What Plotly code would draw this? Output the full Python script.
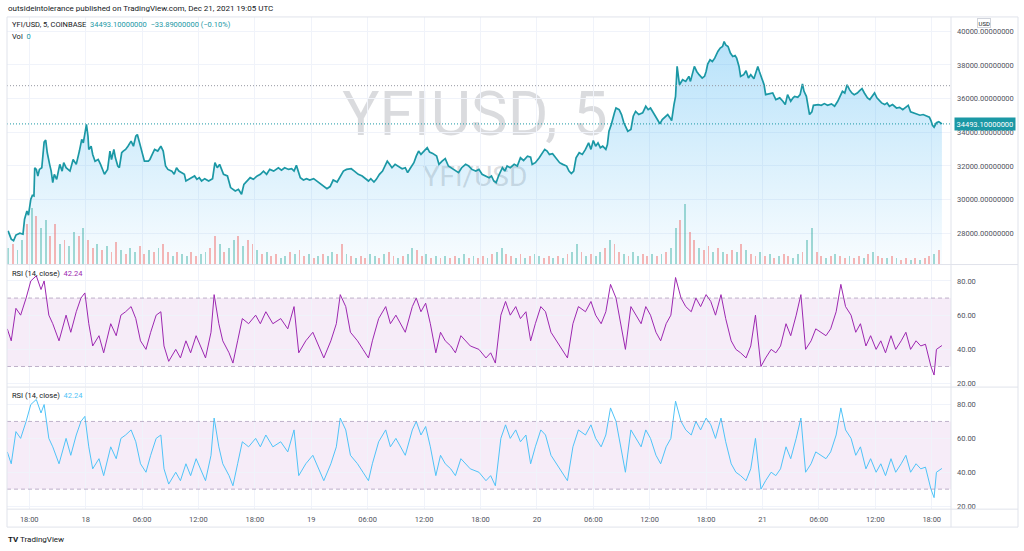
import pandas as pd
import plotly.graph_objects as go

W, H = 1024, 551
BASE = pd.Timestamp("2021-12-17 18:00")

# ---------------- data (minutes after 2021-12-17 18:00 UTC) ----------------
price_min = [-135,-115,-100,-85,-60,-40,-30,-15,-5,10,20,30,35,45,55,65,80,95,105,115,130,140,150,160,175,195,210,220,235,260,
 280,300,320,335,345,355,365,375,380,395,405,420,440,455,470,480,500,515,525,540,550,565,575,590,600,615,630,650,665,680,
 690,705,715,735,760,770,785,800,820,840,855,870,885,910,925,940,955,970,990,1000,1015,1035,1055,1070,1085,1100,1120,1145,1170,1185,
 1200,1215,1240,1265,1285,1315,1335,1355,1370,1390,1410,1430,1455,1475,1495,1515,1535,1560,1590,1610,1630,1655,1675,1690,1705,1730,1750,1770,1790,1815,
 1835,1855,1880,1900,1920,1940,1965,1985,2005,2025,2055,2075,2100,2125,2145,2165,2180,2200,2215,2235,2255,2285,2300,2315,2335,2355,2380,2400,2415,2430,
 2455,2470,2485,2500,2515,2540,2555,2575,2600,2615,2635,2655,2675,2700,2720,2740,2760,2785,2805,2825,2850,2870,2890,2910,2935,2950,2965,2980,2995,3020,
 3035,3050,3070,3095,3115,3135,3155,3180,3200,3210,3230,3255,3275,3290,3305,3320,3340,3360,3385,3405,3430,3445,3460,3475,3490,3510,3530,3550,3570,3585,
 3600,3615,3630,3645,3660,3680,3690,3700,3715,3735,3745,3765,3780,3795,3820,3840,3855,3870,3890,3915,3935,3950,3965,3990,4010,4025,4040,4060,4075,4090,
 4100,4115,4125,4135,4145,4150,4170,4190,4210,4220,4245,4260,4275,4295,4310,4320,4330,4345,4360,4375,4395,4410,4425,4435,4445,4460,4475,4490,4505,4515,
 4530,4540,4560,4575,4590,4605,4625,4640,4650,4660,4675,4690,4700,4725,4745,4765,4790,4810,4825,4840,4860,4875,4885,4905,4920,4935,4945,4960,4970,4980,
 4995,5005,5035,5055,5075,5095,5120,5140,5160,5180,5190,5205,5220,5235,5250,5265,5285,5300,5315,5330,5350,5365,5380,5395,5410,5425,5440,5460,5475,5490,
 5510,5535,5555,5575,5595,5610,5625,5640,5660,5685,5705,5725,5745,5755,5765,5775,5790,5805,5825]
price_val = [28140,27650,27550,27890,28000,27940,28830,29320,29070,30020,30250,30210,31890,31790,31400,31790,31890,33410,33530,32780,
 32090,31690,31000,31500,31200,32090,31690,32190,31890,31690,32380,32090,32880,33570,33370,33960,34460,33760,32980,33170,
 32680,32280,32380,32090,31790,31500,31790,32880,32380,32980,32480,31990,31890,32780,32880,32980,33170,33470,33170,33760,
 33860,33370,32980,32280,32280,32380,32680,32980,32880,33170,32880,31990,31790,31690,31500,31890,31690,31600,31500,31100,
 31200,31300,31400,31200,31300,31100,31240,31100,31240,32190,31890,32090,31500,31400,30710,30510,30610,30310,30900,31100,
 31300,31200,31400,31500,31690,31500,31790,31690,31890,31750,31890,31790,31830,31690,32030,31300,31160,31240,31160,31240,
 31100,31000,30770,30650,30770,31160,31040,31400,31690,31790,31830,31690,31500,31400,31240,31100,31240,31040,31200,31500,
 31690,32280,32090,31890,32090,31990,31830,31890,31600,31830,32190,32580,32880,32680,32820,33080,32820,32740,32580,32090,
 32280,32430,31990,31830,31690,31600,31890,32090,31990,31790,31690,31790,31500,31400,31300,31400,31100,31000,31400,31890,
 31690,31990,31890,32090,31990,32480,32320,32580,32520,32090,32190,32480,32780,32980,32880,32680,32720,32480,32190,32090,
 31990,31690,31540,31690,32480,32780,32680,32980,33370,32980,33510,33170,33370,33080,33170,32980,33270,34060,34460,35150,
 35440,35340,35050,34560,34060,34160,34950,35240,35050,35150,35540,35340,35440,35050,34750,34500,34750,34950,35050,34850,
 34690,35640,36130,37910,37020,36820,37120,37020,37320,37020,37910,37610,37420,37220,37320,37610,38050,38300,38200,38400,
 38800,39000,39090,39390,39190,39090,38700,38500,38560,38400,37910,37320,37420,37650,37220,37420,37180,37610,37910,37610,
 37220,36820,36230,36270,36330,35940,36040,35840,35640,36230,35840,36040,36130,36070,36230,36870,36430,36130,35540,35050,
 35210,35600,35640,35600,35700,35600,35680,35540,35840,36230,36430,36330,36820,36530,36330,36230,36330,36470,36590,36330,
 36040,35940,36130,36330,36040,35880,35740,35640,35740,35540,35640,35440,35480,35340,35480,35600,35210,35150,35090,35010,
 35050,34950,34890,34690,34410,34300,34560,34620,34493.1]

rsi_min = [-140,-115,-85,-55,-20,10,45,75,95,125,150,190,235,265,300,330,355,380,405,445,475,520,555,585,615,650,680,710,745,775,
 810,840,860,890,935,965,1000,1030,1065,1095,1125,1160,1180,1210,1235,1275,1300,1330,1360,1400,1445,1475,1510,1555,1605,1650,1690,1720,1765,1810,
 1845,1880,1925,1960,1985,2020,2050,2095,2130,2165,2190,2230,2275,2305,2340,2370,2400,2445,2470,2500,2530,2560,2595,2625,2655,2690,2720,2755,2785,2815,
 2870,2915,2945,2975,3010,3040,3070,3105,3135,3170,3200,3230,3265,3295,3330,3365,3405,3435,3470,3505,3550,3585,3615,3650,3680,3710,3745,3775,3805,3840,
 3870,3905,3935,3965,4000,4030,4065,4095,4125,4160,4190,4225,4255,4285,4320,4350,4380,4415,4445,4480,4510,4540,4575,4605,4635,4670,4700,4735,4765,4795,
 4830,4860,4895,4925,4955,4990,5020,5050,5085,5115,5150,5180,5210,5245,5275,5305,5340,5370,5405,5435,5465,5500,5530,5565,5595,5625,5660,5690,5720,5755,
 5775,5790,5825]
rsi_val = [52,45,64,60,70,80,83,75,80,60,55,45,60,50,62,70,73,55,42,48,38,55,48,60,62,65,58,45,40,50,
 60,62,42,33,40,35,45,38,48,42,35,50,72,55,45,38,32,45,58,55,60,55,62,55,58,52,65,38,45,50,
 42,35,45,55,72,65,50,45,40,35,45,58,65,55,60,55,50,65,70,62,67,55,38,50,45,42,38,48,45,42,
 40,35,38,32,60,68,60,65,58,62,45,55,65,62,50,45,40,35,55,65,62,68,60,55,62,78,70,55,40,65,
 60,55,65,60,50,45,55,60,82,70,65,62,70,65,72,68,60,72,58,45,40,38,35,42,60,30,35,40,38,42,
 55,48,60,72,40,45,52,50,48,52,62,78,65,60,50,55,42,48,40,45,38,48,40,45,50,40,45,42,43,30,
 25,40,42.24]

# 30-minute volume buckets, first bucket at 15:45 on Dec 17
vol_start_min = -135
vol_step_min = 30
vol_val = [8,10,7,12,20,28,24,18,22,14,20,10,12,9,16,14,18,12,8,10,7,9,6,11,7,5,8,6,9,5,
 7,6,8,10,6,4,6,5,4,6,4,5,6,8,14,10,6,8,12,14,9,12,10,7,5,6,4,5,3,4,
 6,5,7,4,5,3,4,5,4,6,5,10,5,4,3,4,3,5,4,3,5,6,4,3,4,5,8,7,4,5,
 3,4,3,4,3,4,3,5,3,4,3,4,3,5,6,8,5,4,3,5,3,4,5,4,3,4,3,4,3,5,
 6,10,6,4,5,4,6,8,12,10,6,5,4,6,4,5,4,5,4,5,6,8,18,22,30,16,12,8,7,9,
 6,8,6,5,7,6,10,7,5,4,6,4,5,3,4,5,4,3,5,6,12,18,6,4,3,4,5,4,3,4,
 3,4,3,5,6,4,3,3,4,3,2,3,2,3,2,3,4,5,7]
vol_up = [1,0,1,1,0,1,0,1,1,0,0,1,0,1,1,0,1,0,0,1,0,1,0,0,1,0,1,1,0,0,
 1,0,1,0,0,1,0,1,1,0,0,1,1,0,0,1,0,1,1,0,1,0,0,1,0,1,0,0,1,1,
 0,1,0,0,1,0,1,0,1,1,0,0,1,0,1,0,0,1,1,0,1,0,0,1,0,1,1,0,0,1,
 0,1,0,1,0,0,1,1,0,1,0,0,1,0,1,1,0,0,1,0,1,0,1,1,0,0,1,0,1,0,
 1,1,0,1,0,1,1,0,1,0,0,1,0,1,1,0,0,1,0,1,0,1,1,0,1,0,0,1,0,0,
 1,0,1,0,0,1,0,1,0,0,1,0,1,0,1,0,0,1,1,0,1,1,0,0,1,0,1,0,0,1,
 0,0,1,0,1,0,0,1,0,1,0,0,1,0,1,0,0,1,0]

x_tick_min = [0,360,720,1080,1440,1800,2160,2520,2880,3240,3600,3960,4320,4680,5040,5400,5760]
x_tick_text = ["18:00","18","06:00","12:00","18:00","19","06:00","12:00","18:00","20",
               "06:00","12:00","18:00","21","06:00","12:00","18:00"]
price_ticks = [28000,30000,32000,34000,36000,38000,40000]
rsi_ticks = [20,40,60,80]
LAST_PRICE = 34493.1
CHANGE = -33.89
CHANGE_PCT = -0.10
RSI_LAST = 42.24
LEVEL_LINE = 36765
RSI_UPPER, RSI_LOWER = 70, 30

# ---------------- styling ----------------
FONT = "Roboto"
TXT = "#50535e"
DARK = "#131722"
GRID = "#f0f3fa"
BORDER = "#e0e3eb"
TEAL = "#1b98a5"
PURPLE = "#9c27b0"
LBLUE = "#4fc3f7"
UP = "rgba(38,166,154,0.42)"
DN = "rgba(239,83,80,0.42)"

def px(x):
    return x / W

def py(y):
    return 1 - y / H

def tm(m):
    return BASE + pd.to_timedelta(m, unit="min")

assert len(price_min) == len(price_val)
assert len(rsi_min) == len(rsi_val)
assert len(vol_val) == len(vol_up)

t_price = [tm(m) for m in price_min]
t_rsi = [tm(m) for m in rsi_min]
t_vol = [tm(vol_start_min + i * vol_step_min) for i in range(len(vol_val))]
X0, X1 = tm(-142), tm(5883)

fig = go.Figure()

fig.add_trace(go.Bar(
    x=t_vol, y=vol_val, yaxis="y4",
    marker=dict(color=[UP if u else DN for u in vol_up], line=dict(width=0)),
    width=12 * 60 * 1000, hoverinfo="skip", showlegend=False))

fig.add_trace(go.Scatter(
    x=t_price, y=price_val, mode="lines", yaxis="y",
    line=dict(color=TEAL, width=1.7),
    fill="tozeroy",
    fillgradient=dict(type="vertical",
                      colorscale=[[0, "rgba(41,168,240,0.03)"], [1, "rgba(41,168,240,0.33)"]],
                      start=26168, stop=39400),
    showlegend=False))

fig.add_trace(go.Scatter(x=t_rsi, y=rsi_val, mode="lines", yaxis="y2",
                         line=dict(color=PURPLE, width=1), showlegend=False))
fig.add_trace(go.Scatter(x=t_rsi, y=rsi_val, mode="lines", yaxis="y3",
                         line=dict(color=LBLUE, width=1), showlegend=False))

tickfont = dict(family=FONT, size=7.5, color=TXT)

fig.update_layout(
    width=W, height=H, margin=dict(l=0, r=0, t=0, b=0),
    paper_bgcolor="white", plot_bgcolor="white",
    font=dict(family=FONT, color=TXT),
    showlegend=False, bargap=0,
    xaxis=dict(domain=[px(7), px(951)], range=[X0, X1], type="date",
               tickvals=[tm(m) for m in x_tick_min], ticktext=x_tick_text,
               anchor="y3", showgrid=True, gridcolor=GRID, gridwidth=1,
               zeroline=False, showline=False, ticks="", tickfont=tickfont,
               ticklabelstandoff=4),
    yaxis=dict(domain=[py(265), py(17)], range=[26168, 40849], side="right",
               tickvals=price_ticks, tickformat=".8f", anchor="x",
               showgrid=True, gridcolor=GRID, zeroline=False, ticks="",
               tickfont=tickfont, ticklabelstandoff=5),
    yaxis4=dict(overlaying="y", range=[0, 124], visible=False),
    yaxis2=dict(domain=[py(388), py(266)], range=[18.25, 89.3], side="right",
                tickvals=rsi_ticks, tickformat=".2f", anchor="x",
                showgrid=True, gridcolor=GRID, zeroline=False, ticks="",
                tickfont=tickfont, ticklabelstandoff=5),
    yaxis3=dict(domain=[py(511), py(389)], range=[18.2, 90], side="right",
                tickvals=rsi_ticks, tickformat=".2f", anchor="x",
                showgrid=True, gridcolor=GRID, zeroline=False, ticks="",
                tickfont=tickfont, ticklabelstandoff=5),
)

shapes = []
for ya in ("y2", "y3"):
    shapes.append(dict(type="rect", xref="x domain", yref=ya, x0=0, x1=1,
                       y0=RSI_LOWER, y1=RSI_UPPER, fillcolor="rgba(156,39,176,0.09)",
                       line=dict(width=0), layer="below"))
    for lv in (RSI_UPPER, RSI_LOWER):
        shapes.append(dict(type="line", xref="x domain", yref=ya, x0=0, x1=1,
                           y0=lv, y1=lv, line=dict(color="rgba(140,120,160,0.55)", width=1, dash="4px,3px")))
shapes.append(dict(type="line", xref="x domain", yref="y", x0=0, x1=1, y0=LEVEL_LINE, y1=LEVEL_LINE,
                   line=dict(color="#9598a1", width=1, dash="1px,2px")))
shapes.append(dict(type="line", xref="x domain", yref="y", x0=0, x1=1, y0=LAST_PRICE, y1=LAST_PRICE,
                   line=dict(color=TEAL, width=1, dash="1px,2px")))
shapes.append(dict(type="rect", xref="paper", yref="paper", x0=px(7), x1=px(1018), y0=py(529), y1=py(17),
                   line=dict(color=BORDER, width=1)))
for yy in (265.5, 388.5, 511):
    shapes.append(dict(type="line", xref="paper", yref="paper", x0=px(7), x1=px(1018), y0=py(yy), y1=py(yy),
                       line=dict(color=BORDER, width=1)))
shapes.append(dict(type="line", xref="paper", yref="paper", x0=px(951), x1=px(951), y0=py(529), y1=py(17),
                   line=dict(color=BORDER, width=1)))
shapes.append(dict(type="rect", xref="paper", yref="paper", x0=px(300), x1=px(650), y0=py(140), y1=py(80),
                   line=dict(width=0), fillcolor="rgba(0,0,0,0)", layer="below",
                   label=dict(text="YFIUSD, 5", font=dict(family=FONT, size=62, color="rgba(120,123,134,0.27)"),
                              textposition="middle center")))
shapes.append(dict(type="rect", xref="paper", yref="paper", x0=px(400), x1=px(550), y0=py(188), y1=py(162),
                   line=dict(width=0), fillcolor="rgba(0,0,0,0)", layer="below",
                   label=dict(text="YFI/USD", font=dict(family=FONT, size=28, color="rgba(120,123,134,0.27)"),
                              textposition="middle center")))
fig.update_layout(shapes=shapes)

ann = []
def add_text(x, y, text, size=7.5, color=DARK, xanchor="left", **kw):
    ann.append(dict(x=px(x), y=py(y), xref="paper", yref="paper", text=text, showarrow=False,
                    xanchor=xanchor, yanchor="middle", font=dict(family=FONT, size=size, color=color), **kw))

add_text(6, 9, "outsideintolerance published on TradingView.com, Dec 21, 2021 19:05 UTC", size=8, color=DARK)
add_text(10, 25, f"YFI/USD, 5, COINBASE  <span style='color:{TEAL}'>{LAST_PRICE:.8f}  "
                 f"\u2212{abs(CHANGE):.8f} (\u2212{abs(CHANGE_PCT):.2f}%)</span>", color=DARK)
add_text(10, 37, f"Vol  <span style='color:{TEAL}'>0</span>", color=DARK)
add_text(10, 274, f"RSI (14, close)  <span style='color:{PURPLE}'>{RSI_LAST:.2f}</span>", color=DARK)
add_text(10, 397, f"RSI (14, close)  <span style='color:{LBLUE}'>{RSI_LAST:.2f}</span>", color=DARK)
add_text(6, 541, "<b>TV</b> TradingView", size=8, color=DARK)
ann.append(dict(x=px(954), y=LAST_PRICE, xref="paper", yref="y", text=f"{LAST_PRICE:.8f}",
                showarrow=False, xanchor="left", yanchor="middle", bgcolor=TEAL, borderpad=1.5,
                font=dict(family=FONT, size=7.5, color="white")))
ann.append(dict(x=px(984), y=py(23), xref="paper", yref="paper", text="USD", showarrow=False,
                xanchor="center", yanchor="middle", bgcolor="white", bordercolor="#d1d4dc",
                borderwidth=1, borderpad=0.5, font=dict(family=FONT, size=6, color=DARK)))
fig.update_layout(annotations=ann)

fig.write_html("out.html")
